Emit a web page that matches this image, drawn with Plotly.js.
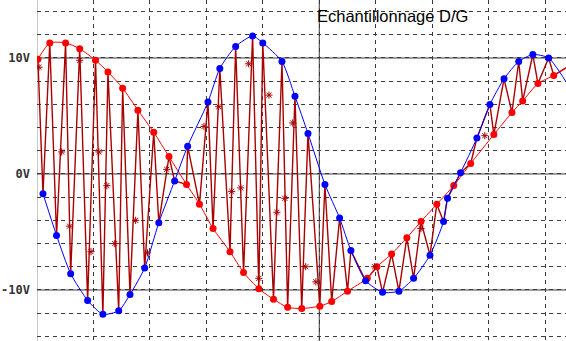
<!DOCTYPE html>
<html>
<head>
<meta charset="utf-8">
<script src="https://cdn.plot.ly/plotly-3.0.1.min.js"></script>
<style>html,body{margin:0;padding:0;background:#fff}#chart{width:566px;height:341px}</style>
</head>
<body>
<div id="chart"></div>
<script>
// time in screen divisions, values in volts
const redT = [0.02,0.23,0.51,0.76,1.04,1.26,1.52,1.79,2.07,2.34,2.65,2.88,3.12,3.42,3.66,3.93,4.19,4.44,4.69,5.01,5.22,5.50,5.85,6.02,6.28,6.55,6.80,7.08,7.38,7.68,8.09,8.41,8.60,8.87,9.15,9.45];
const redV = [9.9,11.3,11.3,10.8,9.8,8.8,7.4,5.5,3.6,1.5,-0.9,-2.6,-4.7,-6.7,-8.5,-9.9,-10.8,-11.5,-11.6,-11.4,-11.0,-10.1,-9.0,-8.0,-6.9,-5.5,-4.1,-2.6,-1.0,0.9,3.4,5.3,6.3,7.8,8.5,9.4];
const blueT = [0.11,0.35,0.60,0.90,1.17,1.45,1.65,1.91,2.16,2.44,2.67,3.03,3.24,3.52,3.82,4.00,4.34,4.57,4.80,5.10,5.36,5.56,5.82,6.12,6.41,6.67,6.96,7.20,7.27,7.50,7.79,8.02,8.27,8.53,8.78,9.06,9.45];
const blueV = [-1.7,-5.3,-8.6,-10.9,-12.1,-11.8,-10.4,-8.1,-4.2,-0.6,2.4,6.2,9.1,11.0,11.9,11.3,9.7,6.7,3.5,-0.9,-3.8,-6.6,-9.2,-10.2,-10.1,-9.0,-7.0,-4.1,-2.1,0.1,3.1,6.0,8.2,9.7,10.3,10.0,7.3];
const markT = [0.04,0.76,0.44,1.10,1.24,2.30,0.58,1.75,0.96,1.38,1.96,3.22,3.75,4.11,2.96,4.53,3.45,3.61,4.39,4.25,3.93,4.76,4.94,5.98,6.80,7.93];
const markV = [9.2,9.8,1.9,1.9,-1.0,0.4,-4.5,-4.0,-6.7,-6.0,-6.8,5.8,9.5,6.8,4.1,4.4,-1.5,-1.2,-2.1,-3.3,-9.0,-8.0,-9.3,-8.0,-4.7,3.3];
const yTicks = [-14,-12,-10,-8,-6,-4,-2,0,2,4,6,8,10,12,14];
const yLabels = {"10":"10V","0":"0V","-10":"-10V"};
const xTicks = [0,1,2,3,4,5,6,7,8,9];
const titleText = "Echantillonnage D/G";

// multiplexed D/G signal: alternate samples of both channels in time order
const mux = redT.map((t,i)=>({t:t,v:redV[i]})).concat(blueT.map((t,i)=>({t:t,v:blueV[i]})))
  .sort((a,b)=>a.t-b.t);

const gridCol = '#3a3a3a';
const traces = [
  {x: mux.map(p=>p.t), y: mux.map(p=>p.v), mode:'lines', line:{color:'#aa0000', width:1.4}, hoverinfo:'skip'},
  {x: redT, y: redV, mode:'lines+markers', line:{color:'#ff0000', width:1, shape:'spline', smoothing:0.6}, marker:{color:'#ff0000', size:7}},
  {x: blueT, y: blueV, mode:'lines+markers', line:{color:'#0000ff', width:1, shape:'spline', smoothing:0.6}, marker:{color:'#0000ff', size:7}},
  {x: markT, y: markV, mode:'markers', marker:{symbol:'asterisk-open', size:6, color:'#aa0000', line:{color:'#aa0000', width:1}}}
];

const solidShapes = [0,5].map(t=>({type:'line', xref:'x', yref:'paper', x0:t, x1:t, y0:0, y1:1, line:{color:gridCol, width:1}, layer:'below'}))
  .concat([-10,0,10].map(v=>({type:'line', xref:'paper', yref:'y', x0:0, x1:1, y0:v, y1:v, line:{color:gridCol, width:1}, layer:'below'})));

const layout = {
  width:566, height:341,
  margin:{l:37, r:0, t:0, b:0, pad:0},
  paper_bgcolor:'#ffffff', plot_bgcolor:'#ffffff',
  showlegend:false, hovermode:false,
  title:{text:titleText, font:{family:'Liberation Sans, Arial, sans-serif', size:16.5, color:'#000'}, x:(317-37)/529, xanchor:'left', xref:'paper', y:1-16/341, yanchor:'middle'},
  xaxis:{range:[0.004, 9.367], tickvals:xTicks, showticklabels:false, ticks:'', showgrid:true, gridcolor:gridCol, gridwidth:1, griddash:'4px,4px', zeroline:false, showline:false, fixedrange:true},
  yaxis:{range:[-14.4, 15.0], tickvals:yTicks, ticktext:yTicks.map(v=>yLabels[String(v)]||''), showticklabels:true, ticks:'', ticklabelstandoff:6,
    tickfont:{family:'DejaVu Sans Mono, monospace', size:12, color:'#333', weight:'bold'},
    showgrid:true, gridcolor:gridCol, gridwidth:1, griddash:'4px,4px', zeroline:false, showline:false, fixedrange:true},
  shapes: solidShapes
};
Plotly.newPlot('chart', traces, layout, {displayModeBar:false, staticPlot:true});
</script>
</body>
</html>
